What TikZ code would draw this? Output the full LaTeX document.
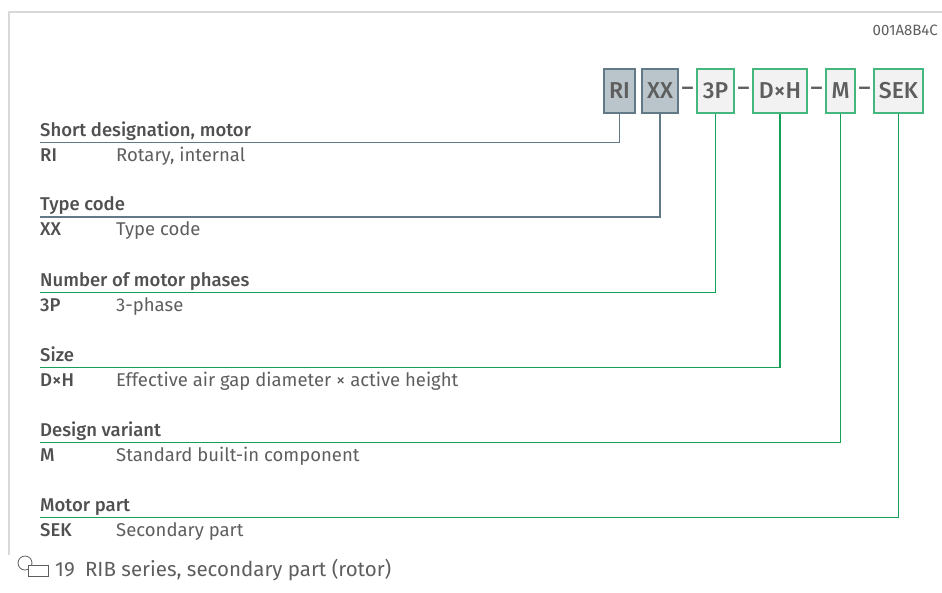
\documentclass[tikz,border=0pt]{standalone}
\usepackage{fontspec}
\setmainfont{Fira Sans}[BoldFont={Fira Sans Medium}]
\definecolor{framegrey}{HTML}{D9D9D9}
\definecolor{codefill}{HTML}{B9C4CB}
\definecolor{codeblue}{HTML}{627987}
\definecolor{boxfill}{HTML}{F2F2F2}
\definecolor{boxgreen}{HTML}{45B77E}
\definecolor{linegreen}{HTML}{13A058}
\definecolor{labeltext}{HTML}{5E5E5E}
\definecolor{headtext}{HTML}{505050}
\newcommand{\boxfont}{\fontsize{23}{27}\selectfont\bfseries}
\newcommand{\headfont}{\fontsize{18.5}{22}\selectfont\bfseries}
\newcommand{\itemfont}{\fontsize{18.5}{22}\selectfont}
\begin{document}
\begin{tikzpicture}[x=1pt,y=-1pt,
    greybox/.style={draw=codeblue, fill=codefill, line width=1.3pt, minimum height=44, inner sep=0pt, text=labeltext, font=\boxfont},
    greenbox/.style={draw=boxgreen, fill=boxfill, line width=1.3pt, minimum height=44, inner sep=0pt, text=labeltext, font=\boxfont},
    sepdash/.style={inner sep=0pt, text=labeltext, font=\boxfont},
    blueline/.style={draw=codeblue, line width=1.3pt},
    greenline/.style={draw=linegreen, line width=1.3pt},
    heading/.style={anchor=base west, inner sep=0pt, text=headtext, font=\headfont},
    abbrev/.style={anchor=base west, inner sep=0pt, text=headtext, font=\headfont},
    descr/.style={anchor=base west, inner sep=0pt, text=labeltext, font=\itemfont}]
    \useasboundingbox (0,0) rectangle (942,592);

    % frame
    \draw[framegrey, line width=1.5pt] (9,555) -- (9,12) -- (942,12);
    \node[anchor=base east, inner sep=0pt, text=labeltext, font=\fontsize{15}{18}\selectfont] (docid) at (938,35) {001A8B4C};

    % type code
    \node[greybox, minimum width=31] (RI) at (619.5,91) {RI};
    \node[greybox, minimum width=36] (XX) at (660,91) {XX};
    \node[sepdash] (d1) at (687.5,91) {–};
    \node[greenbox, minimum width=37] (P) at (715.5,91) {3P};
    \node[sepdash] (d2) at (743.5,91) {–};
    \node[greenbox, minimum width=54] (DH) at (780,91) {D×H};
    \node[sepdash] (d3) at (816.5,91) {–};
    \node[greenbox, minimum width=29] (M) at (840.5,91) {M};
    \node[sepdash] (d4) at (864.5,91) {–};
    \node[greenbox, minimum width=49] (SEK) at (898.5,91) {SEK};

    % legend
    \node[heading] (hRI) at (40,136) {Short designation, motor};
    \node[abbrev] (aRI) at (40,161) {RI};
    \node[descr] (tRI) at (116,161) {Rotary, internal};

    \node[heading] (hXX) at (40,210.5) {Type code};
    \node[abbrev] (aXX) at (40,235.5) {XX};
    \node[descr] (tXX) at (116,235.5) {Type code};

    \node[heading] (hP) at (40,286) {Number of motor phases};
    \node[abbrev] (aP) at (40,311) {3P};
    \node[descr] (tP) at (116,311) {3-phase};

    \node[heading] (hDH) at (40,361) {Size};
    \node[abbrev] (aDH) at (40,386) {D×H};
    \node[descr] (tDH) at (116,386) {Effective air gap diameter × active height};

    \node[heading] (hM) at (40,436) {Design variant};
    \node[abbrev] (aM) at (40,461) {M};
    \node[descr] (tM) at (116,461) {Standard built-in component};

    \node[heading] (hSEK) at (40,511) {Motor part};
    \node[abbrev] (aSEK) at (40,536) {SEK};
    \node[descr] (tSEK) at (116,536) {Secondary part};

    \coordinate (eRI) at (40,142.5);
    \coordinate (eXX) at (40,217);
    \coordinate (eP) at (40,292.5);
    \coordinate (eDH) at (40,367.5);
    \coordinate (eM) at (40,442.5);
    \coordinate (eSEK) at (40,517.5);

    % connectors
    \draw[blueline] (RI.south) |- (eRI);
    \draw[blueline] (XX.south) |- (eXX);
    \draw[greenline] (P.south) |- (eP);
    \draw[greenline] (DH.south) |- (eDH);
    \draw[greenline] (M.south) |- (eM);
    \draw[greenline] (SEK.south) |- (eSEK);

    % caption
    \draw[labeltext, line width=0.8pt] (25,563) circle (7);
    \draw[labeltext, line width=0.8pt, fill=white] (28,565) rectangle (48,576);
    \node[anchor=base west, inner sep=0pt, text=labeltext, font=\fontsize{20.5}{24}\selectfont] (caption) at (55,576) {19\enspace RIB series, secondary part (rotor)};
\end{tikzpicture}
\end{document}
